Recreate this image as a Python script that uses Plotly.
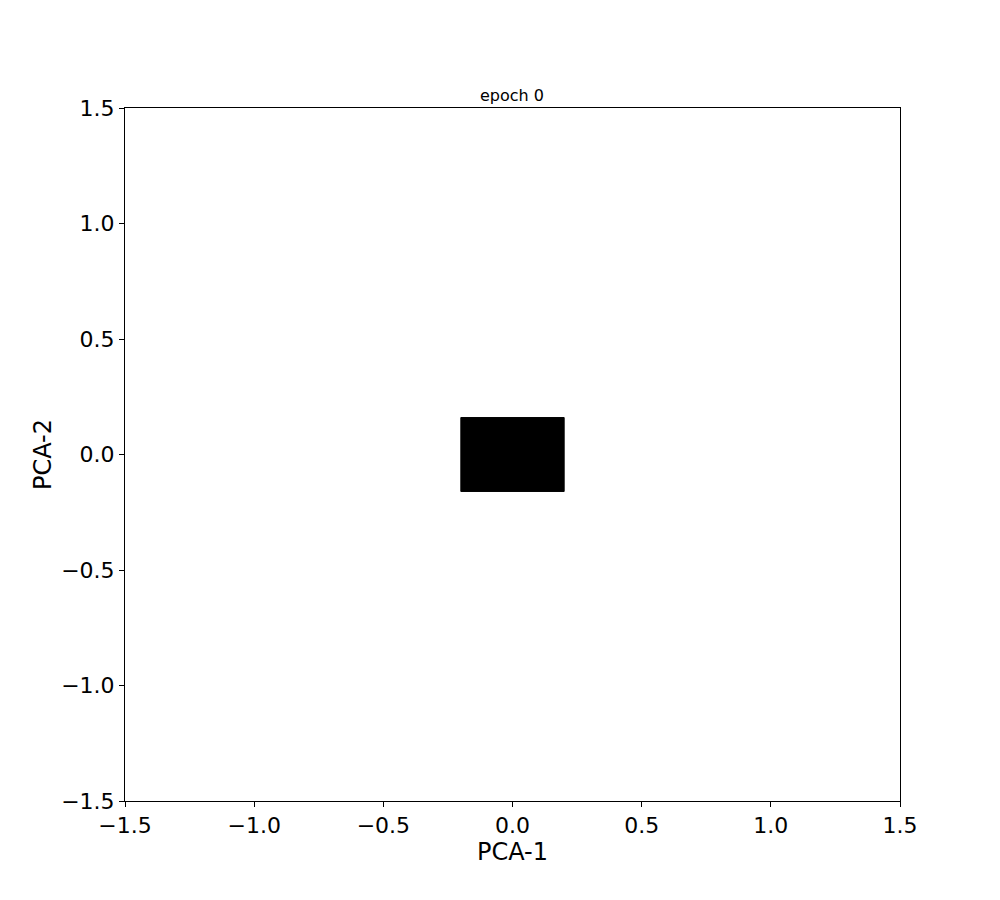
import plotly.graph_objects as go

# region covered by the points at epoch 0 (corners, PCA space)
cloud_x = [-0.2, 0.2, 0.2, -0.2, -0.2]
cloud_y = [-0.16, -0.16, 0.16, 0.16, -0.16]

tick_vals = [-1.5, -1.0, -0.5, 0.0, 0.5, 1.0, 1.5]
tick_text = ["\u22121.5", "\u22121.0", "\u22120.5", "0.0", "0.5", "1.0", "1.5"]

fig = go.Figure()
fig.add_trace(go.Scatter(x=cloud_x, y=cloud_y, mode="lines", fill="toself",
                         fillcolor="black", line=dict(color="black", width=1),
                         showlegend=False, hoverinfo="skip"))

axis_style = dict(range=[-1.5, 1.5], tickvals=tick_vals, ticktext=tick_text,
                  showgrid=False, zeroline=False, showline=True, mirror=True,
                  linecolor="black", linewidth=1, ticks="outside", ticklen=5,
                  tickcolor="black", tickfont=dict(size=22, color="black"))

fig.update_layout(
    width=1000, height=900,
    margin=dict(l=117, r=108, t=100, b=107),
    plot_bgcolor="white", paper_bgcolor="white",
    font=dict(family="DejaVu Sans", color="black"),
    title=dict(text="epoch 0", x=0.504, xanchor="center", y=1 - 87 / 900,
               yanchor="middle", font=dict(size=16)),
    xaxis=dict(axis_style, title=dict(text="PCA-1", font=dict(size=24), standoff=4)),
    yaxis=dict(axis_style, title=dict(text="PCA-2", font=dict(size=24), standoff=2)),
)

fig.write_html("out.html")
